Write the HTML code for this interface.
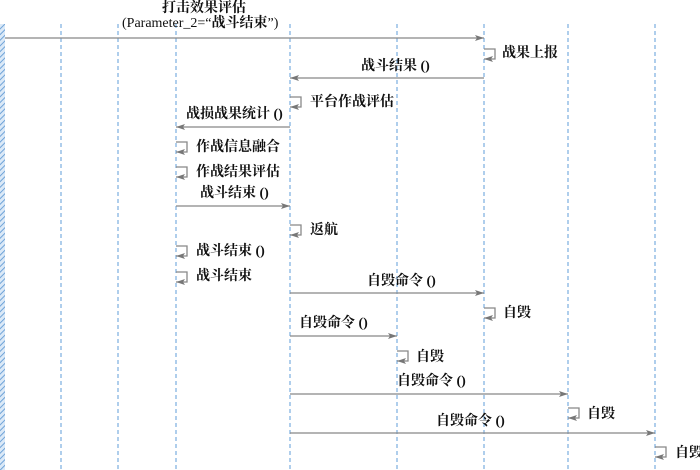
<!DOCTYPE html>
<html><head><meta charset="utf-8"><style>
html,body{margin:0;padding:0;background:#fff;}
svg{display:block;}
text{font-family:"Liberation Serif","Noto Serif CJK SC",serif;font-size:14px;fill:#111;font-weight:bold;}
</style></head><body>
<svg width="700" height="470" viewBox="0 0 700 470" xmlns="http://www.w3.org/2000/svg">
<defs>
<pattern id="h" width="4" height="4" patternUnits="userSpaceOnUse" patternTransform="rotate(45)">
<rect width="4" height="4" fill="#dbe9f7"/><line x1="0" y1="0" x2="0" y2="4" stroke="#6fa3d8" stroke-width="2"/>
</pattern>
<marker id="a" markerWidth="10" markerHeight="8" refX="9" refY="4" orient="auto" markerUnits="userSpaceOnUse">
<path d="M0,1 L9,4 L0,7 L2,4 Z" fill="#777"/>
</marker>
</defs>
<rect x="0" y="24" width="5" height="446" fill="url(#h)"/>
<g stroke="#7aaee0" stroke-width="1.2" stroke-dasharray="4,3">
<line x1="61" y1="24" x2="61" y2="470"/>
<line x1="118" y1="24" x2="118" y2="470"/>
<line x1="176" y1="24" x2="176" y2="470"/>
<line x1="290" y1="24" x2="290" y2="470"/>
<line x1="397" y1="24" x2="397" y2="470"/>
<line x1="484" y1="24" x2="484" y2="470"/>
<line x1="568" y1="24" x2="568" y2="470"/>
<line x1="655" y1="24" x2="655" y2="470"/>
</g>
<g stroke="#888" stroke-width="1.3" fill="none" marker-end="url(#a)">
<line x1="5" y1="38" x2="484" y2="38"/>
<line x1="484" y1="78" x2="290" y2="78"/>
<line x1="290" y1="127" x2="176" y2="127"/>
<line x1="176" y1="206" x2="290" y2="206"/>
<line x1="290" y1="293" x2="484" y2="293"/>
<line x1="290" y1="336" x2="397" y2="336"/>
<line x1="290" y1="394" x2="568" y2="394"/>
<line x1="290" y1="433" x2="655" y2="433"/>
<path d="M484,49 h11 v10 h-11"/>
<path d="M290,97 h11 v10 h-11"/>
<path d="M176,142 h11 v10 h-11"/>
<path d="M176,167 h11 v10 h-11"/>
<path d="M290,225 h11 v10 h-11"/>
<path d="M176,246 h11 v10 h-11"/>
<path d="M176,272 h11 v10 h-11"/>
<path d="M484,308 h11 v10 h-11"/>
<path d="M397,351 h11 v10 h-11"/>
<path d="M568,408 h11 v10 h-11"/>
<path d="M655,447 h11 v10 h-11"/>
</g>
<text x="162" y="12">打击效果评估</text>
<text x="122" y="27" style="font-weight:normal">(Parameter_2=“<tspan font-weight="bold">战斗结束</tspan>”)</text>
<text x="502" y="57">战果上报</text>
<text x="361" y="70">战斗结果 ()</text>
<text x="310" y="106">平台作战评估</text>
<text x="186" y="118">战损战果统计 ()</text>
<text x="196" y="151">作战信息融合</text>
<text x="196" y="176">作战结果评估</text>
<text x="200" y="197">战斗结束 ()</text>
<text x="310" y="234">返航</text>
<text x="196" y="255">战斗结束 ()</text>
<text x="196" y="280">战斗结束</text>
<text x="367" y="285">自毁命令 ()</text>
<text x="503" y="317">自毁</text>
<text x="299" y="327">自毁命令 ()</text>
<text x="416" y="361">自毁</text>
<text x="397" y="385">自毁命令 ()</text>
<text x="587" y="418">自毁</text>
<text x="436" y="425">自毁命令 ()</text>
<text x="675" y="457">自毁</text>
</svg>
</body></html>
